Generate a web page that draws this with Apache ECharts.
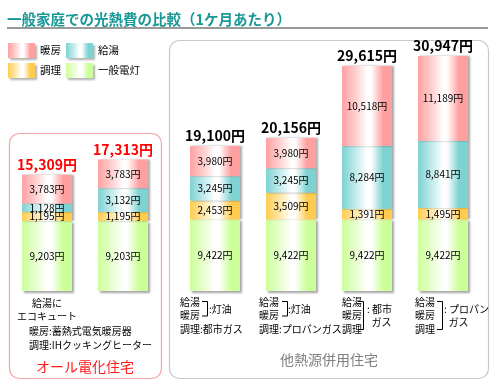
<!DOCTYPE html>
<html><head><meta charset="utf-8">
<script src="https://cdn.jsdelivr.net/npm/echarts@6/dist/echarts.min.js"></script>
<style>html,body{margin:0;padding:0;background:#fff}#c{width:500px;height:385px}</style>
</head><body><div id="c"></div>
<script>
// ---- data ----
const seriesNames = ['暖房', '給湯', '調理', '一般電灯'];
const leftCategories = ['給湯に\nエコキュート', '給湯に\n電気温水器'];
const leftHeating = [3783, 3783];
const leftWater = [1128, 3132];
const leftCooking = [1195, 1195];
const leftLighting = [9203, 9203];
const rightCategories = ['灯油・都市ガス', '灯油・プロパンガス', '都市ガス', 'プロパンガス'];
const rightHeating = [3980, 3980, 10518, 11189];
const rightWater = [3245, 3245, 8284, 8841];
const rightCooking = [2453, 3509, 1391, 1495];
const rightLighting = [9422, 9422, 9422, 9422];
const leftNotes = ['暖房:蓄熱式電気暖房器', '調理:IHクッキングヒーター'];
const leftPanelTitle = 'オール電化住宅';
const rightPanelTitle = '他熱源併用住宅';
const rightNotes = [
  { lines: ['給湯', '暖房'], fuel: [':灯油'], cook: '調理:都市ガス' },
  { lines: ['給湯', '暖房'], fuel: [':灯油'], cook: '調理:プロパンガス' },
  { lines: ['給湯', '暖房', '調理'], fuel: [': 都市', '  ガス'] },
  { lines: ['給湯', '暖房', '調理'], fuel: [': プロパン', '  ガス'] }
];
const titleText = '一般家庭での光熱費の比較（1ケ月あたり）';

// ---- helpers ----
const FONT = '"Noto Sans CJK JP", sans-serif';
const fmt = n => String(n).replace(/\B(?=(\d{3})+(?!\d))/g, ',');
const baseColors = { '暖房': '#ffa0a0', '給湯': '#7fd2d2', '調理': '#ffcc50', '一般電灯': '#ccff99' };
const lightColors = { '暖房': '#ffd8d8', '給湯': '#cdeff0', '調理': '#ffecb8', '一般電灯': '#ecffd8' };
function grad(name) {
  const c = baseColors[name], l = lightColors[name];
  return new echarts.graphic.LinearGradient(0, 0, 1, 0, [
    { offset: 0, color: c }, { offset: 0.32, color: l }, { offset: 0.5, color: '#ffffff' },
    { offset: 0.58, color: '#ffffff' }, { offset: 0.82, color: c }, { offset: 1, color: c }
  ]);
}
const sum = arrs => arrs[0].map((_, i) => arrs.reduce((s, a) => s + a[i], 0));
const leftTotals = sum([leftHeating, leftWater, leftCooking, leftLighting]);
const rightTotals = sum([rightHeating, rightWater, rightCooking, rightLighting]);

function makeSeries(axis, stack, values, totals, totalColor) {
  const order = [['一般電灯', values[3]], ['調理', values[2]], ['給湯', values[1]], ['暖房', values[0]]];
  return order.map(([name, data], k) => ({
    name, type: 'bar', stack, xAxisIndex: axis, yAxisIndex: axis, data, barWidth: 50,
    itemStyle: { color: grad(name), shadowColor: 'rgba(0,0,0,0.35)', shadowBlur: 2,
      shadowOffsetX: 2, shadowOffsetY: k === 0 ? 2 : 0 },
    label: { show: true, position: 'inside', color: '#000', fontSize: 10, fontFamily: FONT,
      formatter: p => fmt(p.value) + '円' },
    emphasis: { disabled: true },
    markPoint: undefined
  })).concat([{
    name: '暖房', type: 'bar', stack, xAxisIndex: axis, yAxisIndex: axis, barWidth: 50,
    data: totals.map(() => 0), itemStyle: { color: 'transparent' },
    label: { show: true, position: 'top', distance: 3, color: totalColor, fontSize: 14,
      fontWeight: 'bold', fontFamily: FONT, formatter: p => fmt(totals[p.dataIndex]) + '円' },
    emphasis: { disabled: true }, legendHoverLink: false
  }]);
}

const chart = echarts.init(document.getElementById('c'), null, { renderer: 'canvas' });
const yAx = i => ({ gridIndex: i, type: 'value', min: 0, max: 32000, show: false });
chart.setOption({
  animation: false,
  textStyle: { fontFamily: FONT },
  legend: {
    data: seriesNames, left: 8, top: 43, width: 140, padding: 0, itemGap: 5,
    itemWidth: 27, itemHeight: 15, icon: 'rect', selectedMode: false,
    itemStyle: { shadowColor: 'rgba(0,0,0,0.3)', shadowBlur: 2, shadowOffsetX: 2, shadowOffsetY: 2 },
    textStyle: { fontSize: 10.5, color: '#000', fontFamily: FONT }
  },
  grid: [
    { left: 9, width: 152, top: 48, height: 243 },
    { left: 177, width: 304, top: 48, height: 243 }
  ],
  xAxis: [
    { gridIndex: 0, type: 'category', data: leftCategories, axisLine: { show: false }, axisTick: { show: false },
      axisLabel: { margin: 6, fontSize: 10, lineHeight: 13, color: '#000', fontFamily: FONT } },
    { gridIndex: 1, type: 'category', data: rightCategories, axisLine: { show: false }, axisTick: { show: false },
      axisLabel: { show: false } }
  ],
  yAxis: [yAx(0), yAx(1)],
  series: makeSeries(0, 'L', [leftHeating, leftWater, leftCooking, leftLighting], leftTotals, '#ff0000')
    .concat(makeSeries(1, 'R', [rightHeating, rightWater, rightCooking, rightLighting], rightTotals, '#000'))
});

// ---- decorations / annotations ----
const g = [];
const txt = (x, y, s, o) => g.push(Object.assign({ type: 'text', x, y, z: 10,
  style: Object.assign({ text: s, fill: '#000', font: '10px ' + FONT, textVerticalAlign: 'middle' }, o || {}) }));
// title
txt(7, 19, titleText, { fill: '#189896', font: 'bold 14.5px ' + FONT });
g.push({ type: 'rect', shape: { x: 7, y: 27, width: 481, height: 2 }, style: { fill: '#999' }, z: 1 });
// panels
g.push({ type: 'rect', z: -1, shape: { x: 9.5, y: 133.5, width: 152, height: 245, r: 10 },
  style: { fill: 'none', stroke: '#f3a3a3', lineWidth: 1.2 } });
g.push({ type: 'rect', z: -1, shape: { x: 169.5, y: 40.5, width: 319, height: 338, r: 10 },
  style: { fill: 'none', stroke: '#c8c8c8', lineWidth: 1.2 } });
// left notes
txt(29, 331, leftNotes[0]);
txt(29, 345, leftNotes[1]);
txt(85, 367, leftPanelTitle, { fill: '#ff1a1a', font: '14px ' + FONT, textAlign: 'center' });
txt(329, 360, rightPanelTitle, { fill: '#808080', font: '14px ' + FONT, textAlign: 'center' });
// right notes
const lay = [
  { tx: -35, b1: -13, b2: -8, fx: -6 },
  { tx: -32, b1: -9, b2: -4, fx: -3 },
  { tx: -25, b1: -9, b2: -4, fx: 0 },
  { tx: -28, b1: -6, b2: -1, fx: 1 }
];
rightNotes.forEach((n, i) => {
  const c = chart.convertToPixel({ xAxisIndex: 1 }, i);
  const L = lay[i];
  n.lines.forEach((s, j) => txt(c + L.tx, 302 + j * 13.5, s));
  const yb = 302 + (n.lines.length - 1) * 13.5;
  g.push({ type: 'polyline', z: 10, shape: { points: [[c + L.b1, 301.5], [c + L.b2 + 0.5, 301.5], [c + L.b2 + 0.5, yb + 0.5], [c + L.b1, yb + 0.5]] },
    style: { stroke: '#000', lineWidth: 1, fill: 'none' } });
  const fy = (302 + yb) / 2 - (n.fuel.length - 1) * 6.5;
  n.fuel.forEach((s, j) => txt(c + L.fx, fy + j * 13, s));
  if (n.cook) txt(c + L.tx, 329, n.cook);
});
chart.setOption({ graphic: { elements: g } });
</script>
</body></html>
